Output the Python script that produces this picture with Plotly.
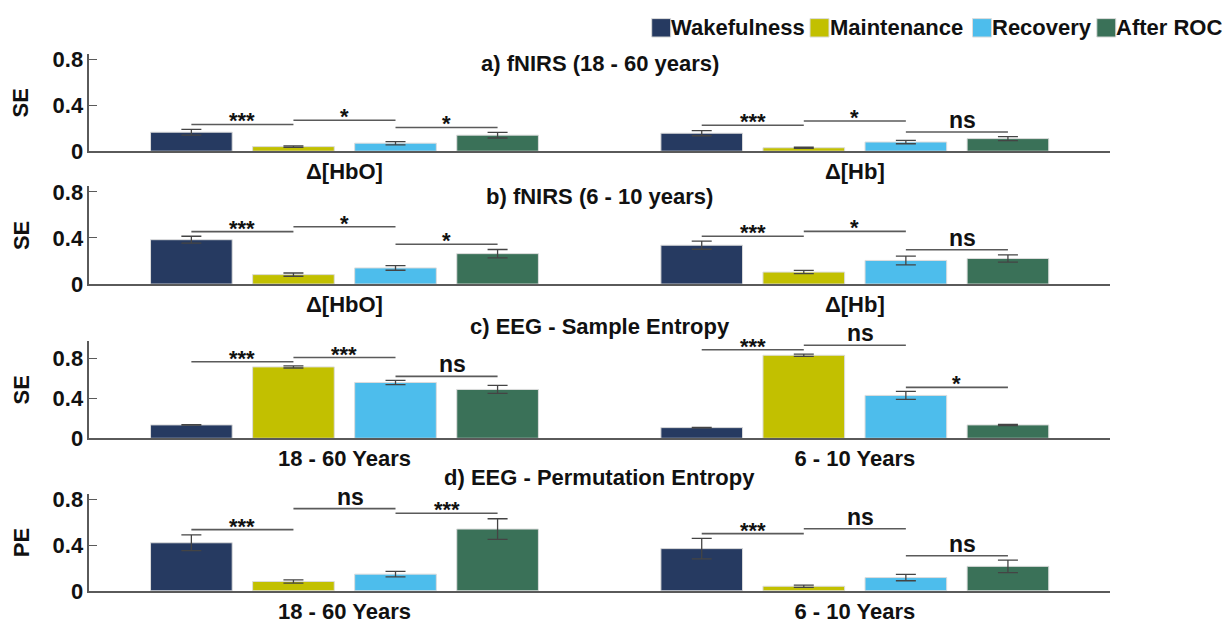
import plotly.graph_objects as go

# ---- data -------------------------------------------------------------
series = ["Wakefulness", "Maintenance", "Recovery", "After ROC"]
colors = ["#263a61", "#c2c000", "#4dbdec", "#3a7158"]

groups_fnirs = ["Δ[HbO]", "Δ[Hb]"]
groups_eeg = ["18 - 60 Years", "6 - 10 Years"]

# a) fNIRS adults
a_means = [[0.166, 0.157], [0.040, 0.030], [0.070, 0.080], [0.140, 0.110]]
a_errs = [[0.025, 0.022], [0.006, 0.006], [0.014, 0.015], [0.025, 0.017]]
# b) fNIRS children
b_means = [[0.385, 0.337], [0.082, 0.104], [0.140, 0.205], [0.264, 0.222]]
b_errs = [[0.030, 0.035], [0.014, 0.014], [0.020, 0.038], [0.036, 0.032]]
# c) EEG sample entropy
c_means = [[0.134, 0.107], [0.716, 0.833], [0.560, 0.430], [0.490, 0.134]]
c_errs = [[0.003, 0.003], [0.011, 0.011], [0.021, 0.040], [0.040, 0.006]]
# d) EEG permutation entropy
d_means = [[0.420, 0.369], [0.082, 0.040], [0.146, 0.116], [0.540, 0.214]]
d_errs = [[0.069, 0.090], [0.014, 0.010], [0.024, 0.028], [0.090, 0.054]]

# significance: (group, first series of the pair, bracket level, label)
a_sig = [(0, 0, 0.233, "***"), (0, 1, 0.270, "*"), (0, 2, 0.207, "*"),
         (1, 0, 0.227, "***"), (1, 1, 0.264, "*"), (1, 2, 0.168, "ns")]
b_sig = [(0, 0, 0.455, "***"), (0, 1, 0.497, "*"), (0, 2, 0.345, "*"),
         (1, 0, 0.415, "***"), (1, 1, 0.457, "*"), (1, 2, 0.298, "ns")]
c_sig = [(0, 0, 0.768, "***"), (0, 1, 0.810, "***"), (0, 2, 0.621, "ns"),
         (1, 0, 0.888, "***"), (1, 1, 0.934, "ns"), (1, 2, 0.511, "*")]
d_sig = [(0, 0, 0.535, "***"), (0, 1, 0.718, "ns"), (0, 2, 0.678, "***"),
         (1, 0, 0.500, "***"), (1, 1, 0.543, "ns"), (1, 2, 0.307, "ns")]

titles = ["a) fNIRS (18 - 60 years)", "b) fNIRS (6 - 10 years)",
          "c) EEG - Sample Entropy", "d) EEG - Permutation Entropy"]
ylabels = ["SE", "SE", "SE", "PE"]
ytop = [0.85, 0.85, 0.98, 0.85]
yticks = [0, 0.4, 0.8]
yticktext = ["0", "0.4", "0.8"]

panels = [
    (groups_fnirs, a_means, a_errs, a_sig),
    (groups_fnirs, b_means, b_errs, b_sig),
    (groups_eeg, c_means, c_errs, c_sig),
    (groups_eeg, d_means, d_errs, d_sig),
]

# ---- layout geometry (pixels of a 1223 x 631 canvas) -----------------
W, H = 1223, 631
FONT = "Liberation Sans, Arial, Helvetica, sans-serif"
TEXT_COLOR = "#111111"
AXIS_COLOR = "#5a5a5a"
FS = 22
x_left, x_right = 89.3, 1110.0
panel_px = [(49.3, 149.7), (185.7, 286.7), (345.0, 445.7), (502.7, 603.0)]
title_px = [59, 196, 330, 486]
ylab_px = 21

BARGAP, GROUPGAP = 0.2, 0.2
slot = (1 - BARGAP) / len(series)


def bar_center(g, s):
    return g + (s - (len(series) - 1) / 2) * slot


def bold(size=FS):
    return dict(family=FONT, size=size, color=TEXT_COLOR, weight="bold")


fig = go.Figure()
shapes, annotations = [], []
layout_axes = {}

for p, (cats, means, errs, sig) in enumerate(panels):
    n = "" if p == 0 else str(p + 1)
    xa, ya = "x" + n, "y" + n
    for s, name in enumerate(series):
        fig.add_trace(go.Bar(
            x=cats, y=means[s], name=name, xaxis=xa, yaxis=ya,
            showlegend=False,
            marker=dict(color=colors[s], line=dict(color="#dcdcdc", width=1)),
            error_y=dict(type="data", array=errs[s], color="#444444",
                         thickness=1.3, width=10),
        ))
    top, bot = panel_px[p]
    layout_axes["xaxis" + n] = dict(
        domain=[x_left / W, x_right / W], anchor=ya, type="category",
        range=[-0.5, 1.5], showline=True, linecolor=AXIS_COLOR, linewidth=1.5,
        ticks="", showgrid=False, zeroline=False, tickfont=bold(),
    )
    layout_axes["yaxis" + n] = dict(
        domain=[1 - bot / H, 1 - top / H], anchor=xa, range=[0, ytop[p]],
        tickvals=yticks, ticktext=yticktext, ticks="inside", ticklen=8,
        tickcolor=AXIS_COLOR, showline=True, linecolor=AXIS_COLOR,
        linewidth=1.5, showgrid=False, zeroline=False, tickfont=bold(),
    )
    # significance brackets
    for g, s0, level, label in sig:
        x0, x1 = bar_center(g, s0), bar_center(g, s0 + 1)
        shapes.append(dict(type="line", xref=xa, yref=ya, x0=x0, x1=x1,
                           y0=level, y1=level,
                           line=dict(color=AXIS_COLOR, width=1.6)))
        is_ns = label == "ns"
        annotations.append(dict(
            xref=xa, yref=ya, x=(x0 + x1) / 2, y=level, text=label,
            showarrow=False, xanchor="center", yanchor="bottom",
            xshift=6 if is_ns else 0, yshift=-3 if is_ns else -11,
            font=bold(FS + 1 if is_ns else FS),
        ))
    # panel title
    annotations.append(dict(
        xref="paper", yref="paper", x=(x_left + x_right) / 2 / W,
        y=1 - title_px[p] / H, text=titles[p], showarrow=False,
        xanchor="center", yanchor="middle", font=bold(),
    ))
    # y-axis label
    annotations.append(dict(
        xref="paper", yref="paper", x=ylab_px / W,
        y=1 - (top + bot) / 2 / H, text=ylabels[p], showarrow=False,
        textangle=-90, xanchor="center", yanchor="middle", font=bold(),
    ))

# legend row (squares + labels)
legend_x = [651.7, 810.0, 972.5, 1096.8]
legend_y, sq = 22.5, 19
for s, name in enumerate(series):
    x0 = legend_x[s]
    shapes.append(dict(type="rect", xref="paper", yref="paper",
                       x0=x0 / W, x1=(x0 + sq) / W,
                       y0=1 - (legend_y + sq / 2) / H,
                       y1=1 - (legend_y - sq / 2) / H,
                       fillcolor=colors[s], line=dict(color="#dcdcdc", width=1)))
    annotations.append(dict(
        xref="paper", yref="paper", x=(x0 + sq - 1.5) / W, y=1 - legend_y / H,
        text=name, showarrow=False, xanchor="left", yanchor="middle",
        font=bold(),
    ))

fig.update_layout(
    width=W, height=H, margin=dict(l=0, r=0, t=0, b=0),
    paper_bgcolor="white", plot_bgcolor="white",
    barmode="group", bargap=BARGAP, bargroupgap=GROUPGAP,
    shapes=shapes, annotations=annotations,
    font=dict(family=FONT), **layout_axes,
)

fig.write_html("out.html")
